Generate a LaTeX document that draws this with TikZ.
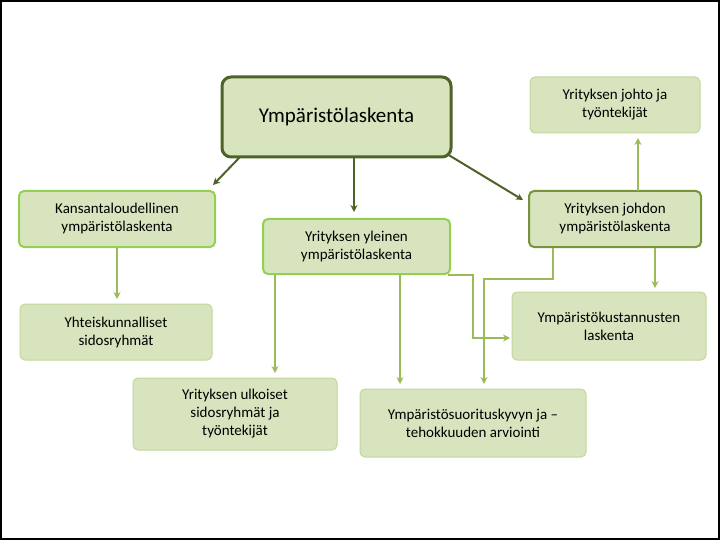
\documentclass[tikz,border=0pt]{standalone}
\usepackage{fontspec}
\setmainfont{Carlito}
\usetikzlibrary{arrows.meta}
\definecolor{fillg}{HTML}{D7E4BD}
\definecolor{darkg}{HTML}{4F6228}
\definecolor{midg}{HTML}{77933C}
\definecolor{brightg}{HTML}{92D050}
\definecolor{paleg}{HTML}{C3D69B}
\definecolor{lineg}{HTML}{9BBB59}
\begin{document}
\begin{tikzpicture}[x=1pt,y=-1pt,
 box/.style={rounded corners=5pt,fill=fillg,align=center,font=\fontsize{15}{18}\selectfont},
 darkarrow/.style={darkg,line width=2pt,-{Stealth[length=7pt,width=7pt]}},
 lightarrow/.style={lineg,line width=2pt,-{Stealth[length=7pt,width=7pt]}}]
\draw[line width=2pt,fill=white] (1,1) rectangle (719,539);
\useasboundingbox (0,0) rectangle (720,540);
\path[box,draw=darkg,line width=3pt,rounded corners=9pt] (222,77) rectangle (451,157);
\node (main) at (336.5,117) {\fontsize{21}{24}\selectfont Ympäristölaskenta};
\path[box,draw=brightg,line width=2pt] (19,191) rectangle (215,247);
\node[align=center,font=\fontsize{15}{18}\selectfont] (kt) at (117,219) {Kansantaloudellinen\\ympäristölaskenta};
\path[box,draw=brightg,line width=2pt] (263,219) rectangle (450,274);
\node[align=center,font=\fontsize{15}{18}\selectfont] (yl) at (356.5,246.5) {Yrityksen yleinen\\ympäristölaskenta};
\path[box,draw=midg,line width=2pt] (529,191) rectangle (701,247);
\node[align=center,font=\fontsize{15}{18}\selectfont] (jd) at (615,219) {Yrityksen johdon\\ympäristölaskenta};
\path[box,draw=paleg,line width=1pt] (530,77) rectangle (700,133);
\node[align=center,font=\fontsize{15}{18}\selectfont] (jt) at (615,105) {Yrityksen johto ja\\työntekijät};
\path[box,draw=paleg,line width=1pt] (20,304) rectangle (212,360);
\node[align=center,font=\fontsize{15}{18}\selectfont] (yh) at (116,332) {Yhteiskunnalliset\\sidosryhmät};
\path[box,draw=paleg,line width=1pt] (133,378) rectangle (337,450);
\node[align=center,font=\fontsize{15}{18}\selectfont] (uk) at (235,414) {Yrityksen ulkoiset\\sidosryhmät ja\\työntekijät};
\path[box,draw=paleg,line width=1pt] (512,292) rectangle (706,360);
\node[align=center,font=\fontsize{15}{18}\selectfont] (ku) at (609,326) {Ympäristökustannusten\\laskenta};
\path[box,draw=paleg,line width=1pt] (360,389) rectangle (586,457);
\node[align=center,font=\fontsize{15}{18}\selectfont] (su) at (473,423) {Ympäristösuorituskyvyn ja –\\tehokkuuden arviointi};
\coordinate (m1) at (240,157); \coordinate (m1e) at (213,185);
\coordinate (m2) at (354,157); \coordinate (m2e) at (354,212);
\coordinate (m3) at (447,154); \coordinate (m3e) at (523,200);
\draw[darkarrow] (m1) -- (m1e);
\draw[darkarrow] (m2) -- (m2e);
\draw[darkarrow] (m3) -- (m3e);
\coordinate (a1) at (117,248); \coordinate (a1e) at (117,299);
\coordinate (a2) at (275,275); \coordinate (a2e) at (275,373);
\coordinate (a3) at (400,275); \coordinate (a3e) at (400,384);
\coordinate (a4) at (448,275); \coordinate (a4e) at (510,338);
\coordinate (a5) at (638,191); \coordinate (a5e) at (638,138);
\coordinate (a6) at (655,248); \coordinate (a6e) at (655,288);
\coordinate (a7) at (553,248); \coordinate (a7e) at (484,384);
\draw[lightarrow] (a1) -- (a1e);
\draw[lightarrow] (a2) -- (a2e);
\draw[lightarrow] (a3) -- (a3e);
\draw[lightarrow] (a4) -- (473,275) -- (473,338) -- (a4e);
\draw[lightarrow] (a5) -- (a5e);
\draw[lightarrow] (a6) -- (a6e);
\draw[lightarrow] (a7) -- (553,279) -- (484,279) -- (a7e);
\end{tikzpicture}
\end{document}
